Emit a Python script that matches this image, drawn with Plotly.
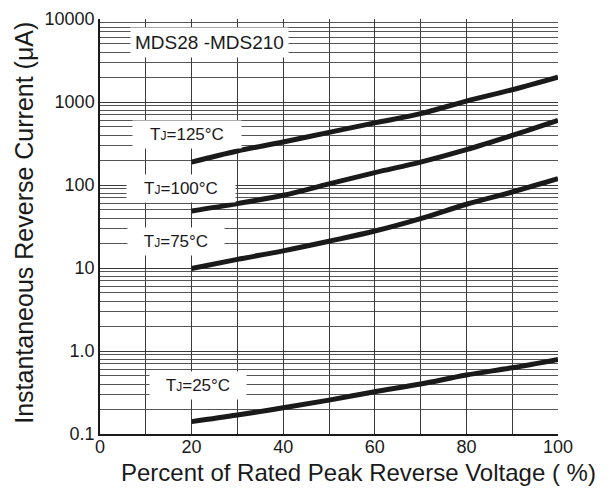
import plotly.graph_objects as go

x_pct = [20, 30, 40, 50, 60, 70, 80, 90, 100]
ir_125 = [189, 257, 329, 431, 560, 723, 1026, 1406, 1995]
ir_100 = [48.7, 59.7, 75.2, 103, 141, 189, 267, 396, 601]
ir_75 = [9.86, 12.7, 16.1, 21.0, 27.9, 39.4, 58.6, 82.4, 119]
ir_25 = [0.141, 0.169, 0.207, 0.256, 0.323, 0.400, 0.513, 0.628, 0.793]

y_tickvals = [0.1, 1, 10, 100, 1000, 10000]
y_ticktext = ["0.1", "1.0", "10", "100", "1000", "10000"]
x_tickvals = [0, 20, 40, 60, 80, 100]

FONT = "Liberation Sans, Arial, Helvetica, sans-serif"
INK = "#1a1a1a"

fig = go.Figure()
for ys in (ir_125, ir_100, ir_75, ir_25):
    fig.add_trace(go.Scatter(x=x_pct, y=ys, mode="lines",
                             line=dict(color=INK, width=5, shape="spline"),
                             showlegend=False, hoverinfo="skip"))

def tj(t):
    return "T<span style='font-size:12px'>J</span>=" + t + "°C"

labels = [
    ("MDS28 -MDS210", 24.0, 3.717, None, 19),
    (tj("125"), 19.0, 2.610, 100, 17),
    (tj("100"), 17.7, 1.960, 100, 17),
    (tj("75"), 16.6, 1.322, 88, 17),
    (tj("25"), 21.4, -0.416, 88, 17),
]
for txt, ax_, ay_, w, fs in labels:
    kw = dict(x=ax_, y=ay_, xref="x", yref="y", text=txt, showarrow=False,
              bgcolor="white", borderpad=4,
              font=dict(family=FONT, size=fs, color=INK))
    if w:
        kw["width"] = w
    fig.add_annotation(**kw)

# axis titles
fig.add_annotation(x=0.564, y=-0.092, xref="paper", yref="paper",
                   text="Percent of Rated Peak Reverse Voltage ( %)", showarrow=False,
                   font=dict(family=FONT, size=24, color=INK),
                   xanchor="center", yanchor="middle")
fig.add_annotation(x=-0.166, y=0.509, xref="paper", yref="paper",
                   text="Instantaneous Reverse Current (μA)", showarrow=False,
                   textangle=-90, font=dict(family=FONT, size=25, color=INK),
                   xanchor="center", yanchor="middle")

fig.update_layout(
    width=607, height=483,
    margin=dict(l=92, r=57, t=11, b=57, autoexpand=False),
    paper_bgcolor="white", plot_bgcolor="white",
    font=dict(family=FONT, color=INK),
)
fig.update_xaxes(
    range=[0, 100], tickvals=x_tickvals, ticks="", showline=True,
    linecolor=INK, linewidth=1.5, showgrid=True, gridcolor="#3a3a3a", gridwidth=1,
    minor=dict(dtick=10, showgrid=True, gridcolor="#3a3a3a", gridwidth=1),
    tickfont=dict(size=18), zeroline=False, automargin=False,
    ticklabelstandoff=-4,
)
fig.update_yaxes(
    type="log", range=[-1, 4], tickvals=y_tickvals, ticktext=y_ticktext,
    ticks="", showline=True, linecolor=INK, linewidth=1.5,
    showgrid=True, gridcolor="#3a3a3a", gridwidth=1,
    minor=dict(dtick="D1", showgrid=True, gridcolor="#555555", gridwidth=1),
    tickfont=dict(size=18), zeroline=False, automargin=False,
)
fig.write_html("out.html")
